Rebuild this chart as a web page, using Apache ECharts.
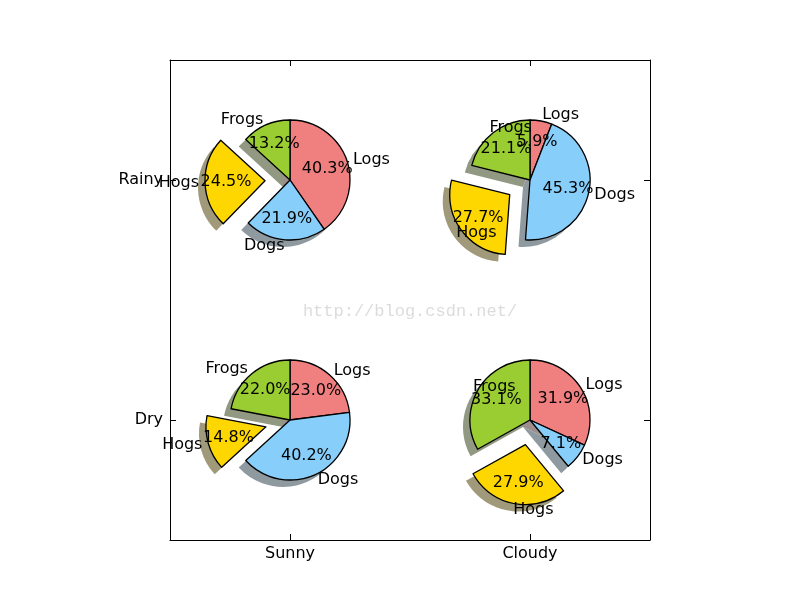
<!DOCTYPE html>
<html><head><meta charset="utf-8">
<script src="https://cdn.jsdelivr.net/npm/echarts@6/dist/echarts.min.js"></script>
<style>html,body{margin:0;padding:0;background:#fff}#c{width:800px;height:600px}</style>
</head><body><div id="c"></div>
<script>
// ---- data ----
const sliceNames = ['Logs', 'Dogs', 'Hogs', 'Frogs'];
const xCategories = ['Sunny', 'Cloudy'];
const yCategories = ['Dry', 'Rainy'];
const rainySunny = [40.3, 21.9, 24.5, 13.2];
const rainyCloudy = [5.9, 45.3, 27.7, 21.1];
const drySunny = [23.0, 40.2, 14.8, 22.0];
const dryCloudy = [31.9, 7.1, 27.9, 33.1];
const explodedSlice = 'Hogs';
const watermarkText = 'http://blog.csdn.net/';

const pies = [
  { x: 'Sunny', y: 'Rainy', values: rainySunny },
  { x: 'Cloudy', y: 'Rainy', values: rainyCloudy },
  { x: 'Sunny', y: 'Dry', values: drySunny },
  { x: 'Cloudy', y: 'Dry', values: dryCloudy }
];

// ---- styles ----
const sliceColors = ['#F08080', '#87CEFA', '#FFD700', '#9ACD32'];
function shadowOf(hex) {
  const n = parseInt(hex.slice(1), 16);
  const c = [(n >> 16) & 255, (n >> 8) & 255, n & 255].map(v => Math.round(0.15 * v + 122));
  return 'rgb(' + c.join(',') + ')';
}
const shadowColors = sliceColors.map(shadowOf);
const FONT = 'DejaVu Sans';
const explodePx = 25;
const shadowDx = -7, shadowDy = 7;

const chart = echarts.init(document.getElementById('c'), null, { renderer: 'canvas' });

const axisCommon = {
  type: 'category',
  boundaryGap: true,
  axisLine: { show: true, onZero: false, lineStyle: { color: '#000', width: 1 } },
  axisTick: { show: true, inside: true, length: 6, alignWithLabel: true, lineStyle: { color: '#000', width: 1 } },
  splitLine: { show: false }
};

const baseOption = {
  backgroundColor: '#fff',
  animation: false,
  grid: { left: 170, top: 60, width: 480, height: 480, containLabel: false },
  xAxis: [
    Object.assign({}, axisCommon, { position: 'bottom', data: xCategories,
      axisLabel: { show: true, fontSize: 16, fontFamily: FONT, color: '#000', margin: 6 } }),
    Object.assign({}, axisCommon, { position: 'top', data: xCategories, axisLabel: { show: false } })
  ],
  yAxis: [
    Object.assign({}, axisCommon, { position: 'left', data: yCategories,
      axisLabel: { show: true, fontSize: 16, fontFamily: FONT, color: '#000', margin: 7 } }),
    Object.assign({}, axisCommon, { position: 'right', data: yCategories, axisLabel: { show: false } })
  ],
  graphic: [{
    type: 'text', z: 0, silent: true,
    style: { x: 410, y: 311, text: watermarkText, align: 'center', verticalAlign: 'middle',
      font: '17px "Liberation Mono"', fill: '#dcdcdc' }
  }],
  series: []
};
chart.setOption(baseOption);

const cellW = chart.convertToPixel({ xAxisIndex: 0 }, xCategories[1]) - chart.convertToPixel({ xAxisIndex: 0 }, xCategories[0]);
const R = cellW / 4;

const series = [];
pies.forEach(function (p) {
  const cx = chart.convertToPixel({ xAxisIndex: 0 }, p.x);
  const cy = chart.convertToPixel({ yAxisIndex: 0 }, p.y);
  const rightColumn = p.x === 'Cloudy';
  const common = {
    type: 'pie', startAngle: 90, clockwise: true,
    selectedMode: 'multiple', selectedOffset: explodePx,
    avoidLabelOverlap: false, animation: false,
    emphasis: { disabled: true }, minShowLabelAngle: 0
  };
  const mkData = (colors) => p.values.map((v, i) => ({
    name: sliceNames[i], value: v, selected: sliceNames[i] === explodedSlice,
    itemStyle: { color: colors[i] }
  }));
  // shadow
  series.push(Object.assign({}, common, {
    z: 1, silent: true, center: [cx + shadowDx, cy + shadowDy], radius: R,
    label: { show: false }, labelLine: { show: false },
    itemStyle: { borderWidth: 0 },
    select: { itemStyle: { borderWidth: 0 } },
    data: mkData(shadowColors)
  }));
  // main wedges + outer labels
  series.push(Object.assign({}, common, {
    z: 2, silent: true, center: [cx, cy], radius: R,
    itemStyle: { borderColor: '#000', borderWidth: 1.3 },
    select: { itemStyle: { borderColor: '#000', borderWidth: 1.3 } },
    label: { show: true, position: 'outside', alignTo: 'none', distanceToLabelLine: 0,
      fontSize: 16, fontFamily: FONT, color: '#000', verticalAlign: 'middle' },
    labelLine: { show: false, length: R * 0.1, length2: 0 },
    labelLayout: rightColumn ? { align: 'left', hideOverlap: false } : { hideOverlap: false },
    data: mkData(sliceColors)
  }));
  // percentage labels at 0.6 R (transparent ring [0, 1.2R] -> label mid radius 0.6R)
  series.push(Object.assign({}, common, {
    z: 3, silent: true, center: [cx, cy], radius: [0, R * 1.2],
    itemStyle: { color: 'rgba(0,0,0,0)', borderWidth: 0 },
    select: { itemStyle: { color: 'rgba(0,0,0,0)', borderWidth: 0 } },
    label: { show: true, position: 'inside', rotate: 0, overflow: 'none',
      fontSize: 16, fontFamily: FONT, color: '#000',
      formatter: q => q.value.toFixed(1) + '%' },
    labelLine: { show: false },
    labelLayout: { hideOverlap: false },
    data: mkData(sliceColors.map(() => 'rgba(0,0,0,0)'))
  }));
});

chart.setOption({ series: series });
</script>
</body></html>
